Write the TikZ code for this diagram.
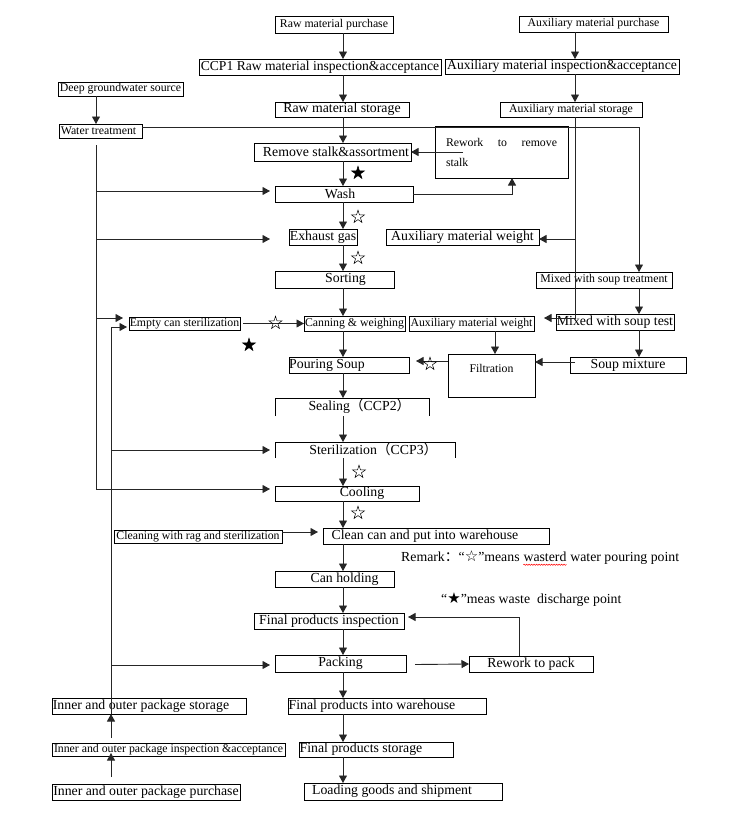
\documentclass[tikz,border=0pt]{standalone}
\usepackage{fontspec}
\setmainfont{Liberation Serif}
\newfontfamily\cjkf{Noto Sans CJK SC}
\newfontfamily\djv{DejaVu Sans}
\usetikzlibrary{arrows.meta,shapes.geometric,decorations.pathmorphing,calc}
\begin{document}
\begin{tikzpicture}[x=1pt,y=-1pt,
  bx/.style={draw=black, line width=0.9pt, inner sep=0pt, outer sep=0pt},
  obx/.style={inner sep=0pt, outer sep=0pt},
  sm/.style={font=\fontsize{11.8}{14}\selectfont},
  lg/.style={font=\fontsize{13.8}{16}\selectfont},
  wh/.style 2 args={minimum width=#1pt, minimum height=#2pt},
  arr/.style={draw=black!85, line width=0.9pt, -{Triangle[length=7.5pt,width=8pt]}},
  ln/.style={draw=black, line width=0.9pt},
  ostar/.style={star, star points=5, star point ratio=2.618, draw=black, line width=0.5pt, minimum size=13.5pt, inner sep=0pt},
  fstar/.style={ostar, fill=black},
]
\useasboundingbox (0,0) rectangle (738,839);

% main column
\node[bx,sm,wh={118}{17}] (rawp) at (334,24.5) {Raw material purchase};
\node[bx,font=\fontsize{13.6}{16}\selectfont,wh={242}{16}] (ccp1) at (320,67) {CCP1 Raw material inspection\&acceptance};
\node[bx,lg,wh={134}{15}] (rawst) at (342,109.5) {Raw material storage};
\node[bx,sm,wh={125}{14}] (deep) at (120.5,89) {Deep groundwater source};
\node[bx,sm,wh={83}{14}] (water) at (100.5,131) {Water treatment\hspace*{4pt}};
\node[bx,lg,wh={157}{18}] (rmst) at (332.5,152) {\hspace*{7pt}Remove stalk\&assortment};
\node[bx,wh={133}{52},text width=111pt,align=justify,font=\fontsize{11.8}{20}\selectfont] (rework) at (501.5,152) {Rework to remove\linebreak stalk};
\node[bx,lg,wh={138}{16}] (wash) at (344,194) {Wash\hspace*{8pt}};
\node[bx,lg,wh={68}{16}] (exh) at (323,237) {Exhaust gas};
\node[bx,lg,wh={153}{16}] (aw1) at (462.5,237) {Auxiliary material weight};
\node[bx,lg,wh={119}{17}] (sort) at (334.5,279.5) {\hspace*{22pt}Sorting};
\node[bx,sm,wh={136}{16}] (mst) at (604,280) {Mixed with soup treatment};
\node[bx,sm,wh={101}{15}] (can) at (354.5,323.5) {Canning \& weighing};
\node[bx,sm,wh={125}{15}] (aw2) at (471.5,323.5) {Auxiliary material weight};
\node[bx,lg,wh={118}{16}] (mtest) at (615,322) {Mixed with soup test};
\node[bx,sm,wh={111}{13}] (empty) at (184.5,323.5) {Empty can sterilization};
\node[bx,lg,wh={120}{16}] (pour) at (349,365) {Pouring Soup\hspace*{44pt}};
\node[bx,sm,wh={87}{43},align=center] (filt) at (491.5,375.5) {Filtration\\\mbox{}};
\node[bx,lg,wh={116}{16}] (soupmix) at (628,365) {Soup mixture};
\node[obx,lg,wh={154}{18}] (seal) at (352,407) {\hspace*{15pt}Sealing{\cjkf\smash{（}}CCP2{\cjkf\smash{）}}};
\node[obx,lg,wh={180}{16}] (ster) at (365,450) {\hspace*{17pt}Sterilization{\cjkf\smash{（}}CCP3{\cjkf\smash{）}}};
\node[bx,lg,wh={144}{15}] (cool) at (347,493.5) {\hspace*{30pt}Cooling};
\node[bx,lg,wh={226}{16}] (clean) at (436,536) {Clean can and put into warehouse\hspace*{22pt}};
\node[bx,sm,wh={168}{13}] (rag) at (198,536.5) {Cleaning with rag and sterilization};
\node[bx,lg,wh={119}{16}] (hold) at (334.5,579) {\hspace*{20pt}Can holding};
\node[bx,lg,wh={150}{16}] (finsp) at (329,621) {Final products inspection};
\node[bx,lg,wh={131}{17}] (pack) at (340.5,663.5) {Packing};
\node[bx,lg,wh={124}{16}] (rwpack) at (531,664) {Rework to pack};
\node[bx,lg,wh={198}{16}] (fwh) at (387,706) {Final products into warehouse\hspace*{30pt}};
\node[bx,lg,wh={154}{15}] (fst) at (376,749.5) {Final products storage\hspace*{30pt}};
\node[bx,lg,wh={198}{17}] (load) at (403,791.5) {Loading goods and shipment\hspace*{22pt}};
\node[bx,lg,wh={194}{16}] (pst) at (149,706) {Inner and outer package storage\hspace*{16pt}};
\node[bx,sm,wh={233}{13}] (pinsp) at (168.5,749.5) {Inner and outer package inspection \&acceptance};
\node[bx,lg,wh={188}{16}] (ppur) at (146,792) {Inner and outer package purchase};
\node[bx,sm,wh={149}{16}] (auxp) at (593.5,24) {Auxiliary material purchase};
\node[bx,font=\fontsize{13.6}{16}\selectfont,wh={234}{15}] (auxi) at (562,66.5) {Auxiliary material inspection\&acceptance};
\node[bx,sm,wh={142}{15}] (auxs) at (571,109.5) {Auxiliary material storage};

% open-bottom boxes
\draw[ln] (seal.south west) -- (seal.north west) -- (seal.north east) -- (seal.south east);
\draw[ln] (ster.south west) -- (ster.north west) -- (ster.north east) -- (ster.south east);

% reference x positions
\coordinate (mx) at (343,0);
\coordinate (ax) at (575,0);
\coordinate (sx) at (639,0);
\coordinate (t1) at (96,0);
\coordinate (t2) at (111,0);

% main flow
\foreach \a/\b in {rawp/ccp1,ccp1/rawst,rawst/rmst,rmst/wash,wash/exh,exh/sort,sort/can,can/pour,pour/seal,seal/ster,ster/cool,cool/clean,clean/hold,hold/finsp,finsp/pack,pack/fwh,fwh/fst,fst/load}
  \draw[arr] (\a.south -| mx) -- (\b.north -| mx);

\draw[arr] (auxp.south -| ax) -- (auxi.north -| ax);
\draw[arr] (auxi.south -| ax) -- (auxs.north -| ax);
\draw[arr] (deep.south -| t1) -- (water.north -| t1);

% water lines
\draw[arr] ($(water.north east)+(0,3)$) -| (mst.north -| sx);
\draw[arr] ($(water.south -| t1)+(0,7)$) |- ($(cool.west)+(-5,-4.5)$);
\draw[arr] ($(wash.west -| t1)+(0,-3)$) -- ($(wash.west)+(-5,-3)$);
\draw[arr] ($(exh.west -| t1)+(0,2)$) -- ($(exh.west -| wash.west)+(-5,2)$);
\draw[arr] ($(empty.west -| t1)+(0,-5.5)$) -- ($(empty.west)+(-6,-5.5)$);

% package line
\draw[arr] (pst.south -| t2) |- ($(empty.west)+(-2,3.5)$);
\draw[arr] (ster.west -| t2) -- ($(ster.west)+(-5,0)$);
\draw[arr] ($(pack.west -| t2)+(0,1.5)$) -- ($(pack.west)+(-5,1.5)$);
\draw[arr] ($(pinsp.north -| t2)+(0,-5)$) -- (pst.south -| t2);
\draw[arr] ($(ppur.north -| t2)+(0,-7)$) -- ($(pinsp.south -| t2)+(0,-3)$);

% side connectors
\draw[arr] ($(empty.east)+(3,0)$) -- (can.west);
\draw[arr] ($(rework.west |- rmst.east)+(28,0)$) -- (rmst.east);
\draw[arr] (wash.east) -| ($(rework.south)+(10.5,0)$);
\draw[arr] (auxs.south -| ax) |- ($(mtest.west -| aw2.east)+(10,-4)$);
\draw[arr] ($(aw1.east -| ax)+(0,2)$) -- ($(aw1.east)+(0,2)$);
\draw[arr] ($(aw2.south)+(23.5,0)$) -- ($(filt.north -| aw2.south)+(23.5,0)$);
\draw[arr] (mst.south -| sx) -- (mtest.north -| sx);
\draw[arr] (mtest.south -| sx) -- (soupmix.north -| sx);
\draw[arr] ($(soupmix.west)+(5,-3)$) -- ($(soupmix.west -| filt.east)+(0,-3)$);
\draw[arr] ($(filt.west |- pour.east)+(0,-4)$) -- ($(pour.east)+(7,-4)$);
\draw[arr] ($(rag.east)+(0,-4.5)$) -- ($(clean.west |- rag.east)+(-5,-4.5)$);
\draw[arr] ($(pack.east)+(9,1)$) -- (rwpack.west);
\draw[arr] ($(rwpack.north)+(-12,0)$) |- ($(finsp.east)+(4,-4)$);

% markers
\node[fstar] (s1) at (358,173) {};
\node[ostar] (s2) at (358,217) {};
\node[ostar] (s3) at (358,258) {};
\node[ostar] (s4) at (275.5,323) {};
\node[fstar] (s5) at (249,345) {};
\node[ostar] (s6) at (430,364) {};
\node[ostar] (s7) at (359,472) {};
\node[ostar] (s8) at (358,513) {};

% remarks
\node[lg, anchor=west, inner sep=0pt] (rem1) at (401,557) {Remark{\cjkf\smash{：}}“{\djv\fontsize{15}{15}\selectfont\smash{☆}}”means};
\node[lg, anchor=base west, inner sep=0pt] (rw) at ($(rem1.base east)+(3.5,0)$) {wasterd};
\node[lg, anchor=base west, inner sep=0pt] (rem1c) at ($(rw.base east)+(3.5,0)$) {water pouring point};
\draw[red, line width=0.5pt, decorate, decoration={snake, amplitude=0.6pt, segment length=2.5pt}] ($(rw.base west)+(0,3)$) -- ($(rw.base east)+(0,3)$);
\node[lg, anchor=west, inner sep=0pt] (rem2) at (441,600) {“{\djv\fontsize{15}{15}\selectfont\smash{★}}”meas waste\ \ discharge point};
\end{tikzpicture}
\end{document}
